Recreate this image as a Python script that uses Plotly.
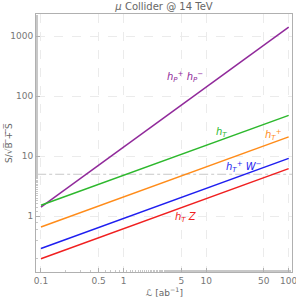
import plotly.graph_objects as go

lumi = [0.1, 1, 10, 100]
hp_hp = [1.42, 14.2, 142, 1420]
h_t = [1.52, 4.8, 15.2, 48]
h_tp = [0.66, 2.1, 6.6, 21]
h_tp_w = [0.29, 0.92, 2.9, 9.2]
h_t_z = [0.195, 0.62, 1.95, 6.2]
threshold = 5

# label positions are in log10 units (Plotly log-axis annotation coordinates)
series = [
    ("h<sub>P</sub><sup>+</sup> h<sub>P</sub><sup>−</sup>", hp_hp, "#912A9B", 0.74, 2.32),
    ("h<sub>T</sub>", h_t, "#2DB82D", 1.185, 1.40),
    ("h<sub>T</sub><sup>+</sup>", h_tp, "#FF8C1A", 1.82, 1.35),
    ("h<sub>T</sub><sup>+</sup> W<sup>−</sup>", h_tp_w, "#1F1FF0", 1.46, 0.82),
    ("h<sub>T</sub> Z", h_t_z, "#F02020", 0.76, -0.02),
]

fig = go.Figure()
fig.add_trace(go.Scatter(x=[0.09, 110], y=[threshold, threshold], mode="lines",
                         line=dict(color="#C8C8C8", width=1, dash="dashdot"), showlegend=False, hoverinfo="skip"))
for name, ys, col, lx, ly in series:
    fig.add_trace(go.Scatter(x=lumi, y=ys, mode="lines", line=dict(color=col, width=1.5),
                             showlegend=False, hoverinfo="skip"))
    fig.add_annotation(x=lx, y=ly, xref="x", yref="y", text="<i>" + name + "</i>", showarrow=False,
                       font=dict(family="DejaVu Sans", size=10, color=col), xanchor="center", yanchor="middle")

axis_common = dict(
    type="log", showline=True, linecolor="#B0B0B0", linewidth=1, mirror=True,
    showgrid=True, gridcolor="#EBEBEB", griddash="dash", gridwidth=1,
    ticks="inside", ticklen=4, tickcolor="#B0B0B0", zeroline=False, automargin=False,
    ticklabeloverflow="allow",
    tickfont=dict(family="DejaVu Sans", size=9, color="#777777"),
    minor=dict(ticks="inside", ticklen=2, tickcolor="#C8C8C8", showgrid=False),
)

fig.update_xaxes(**axis_common, range=[-1.06, 2.04],
                 tickvals=[0.1, 0.5, 1, 5, 10, 50, 100], ticktext=["0.1", "0.5", "1", "5", "10", "50", "100"])
fig.update_yaxes(**axis_common, range=[-0.93, 3.37],
                 tickvals=[1, 10, 100, 1000], ticktext=["1", "10", "100", "1000"])

fig.add_annotation(x=0.5, y=-(292 - 272) / 258, xref="paper", yref="paper", showarrow=False,
                   text="<i>ℒ</i> [ab<sup>−1</sup>]", xanchor="center", yanchor="middle",
                   font=dict(family="DejaVu Sans", size=9, color="#666666"))
fig.add_annotation(x=-(36 - 8) / 256, y=0.5, xref="paper", yref="paper", showarrow=False, textangle=-90,
                   text="S/√B̅ ̅+̅ ̅S̅", xanchor="center", yanchor="middle",
                   font=dict(family="DejaVu Sans", size=9, color="#666666"))

fig.update_layout(
    width=296, height=297,
    margin=dict(l=36, r=4, t=14, b=25),
    plot_bgcolor="white", paper_bgcolor="white",
    title=dict(text="<i>μ</i> Collider @ 14 TeV", x=0.5, xref="paper", xanchor="center", y=0.99, yanchor="top",
               font=dict(family="DejaVu Sans", size=10, color="#666666")),
)

fig.write_html("out.html", config={"displayModeBar": False},
               post_script="document.body.style.margin='0';document.body.style.overflow='hidden';")
